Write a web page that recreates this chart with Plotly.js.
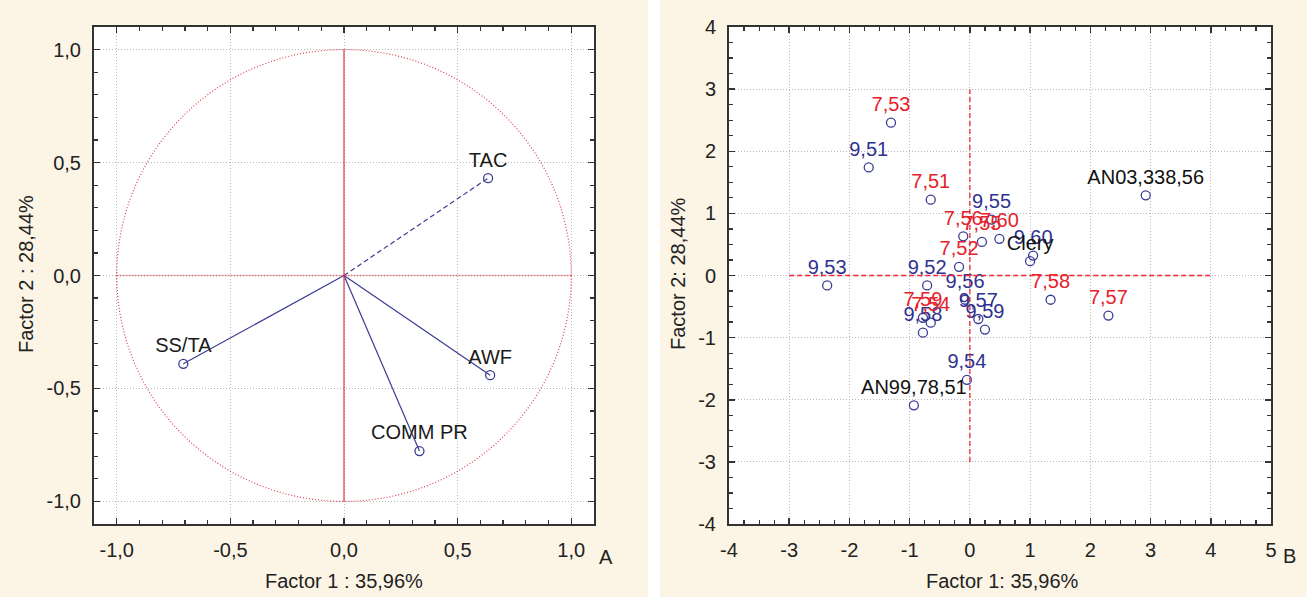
<!DOCTYPE html>
<html>
<head>
<meta charset="utf-8">
<script src="https://cdn.plot.ly/plotly-3.0.1.min.js"></script>
<style>html,body{margin:0;padding:0;background:#fcf5e5;}#chart{width:1307px;height:597px;}</style>
</head>
<body>
<div id="chart"></div>
<script>
// ---- Panel A: loadings ----
const loadNames = ["TAC", "AWF", "SS/TA", "COMM PR"];
const loadF1 = [0.634, 0.643, -0.707, 0.332];
const loadF2 = [0.431, -0.441, -0.391, -0.777];
const loadDash = ["dash", "solid", "solid", "solid"];

// ---- Panel B: scores ----
const redNames = ["7,51","7,52","7,53","7,54","7,55","7,56","7,57","7,58","7,59","7,60"];
const redF1 = [-0.65, -0.18, -1.31, -0.65, 0.20, -0.11, 2.30, 1.34, -0.78, 0.49];
const redF2 = [1.22, 0.14, 2.46, -0.76, 0.54, 0.63, -0.645, -0.39, -0.68, 0.59];

const blueNames = ["9,51","9,52","9,53","9,54","9,55","9,56","9,57","9,58","9,59","9,60"];
const blueF1 = [-1.68, -0.71, -2.37, -0.05, 0.36, -0.08, 0.14, -0.78, 0.25, 1.05];
const blueF2 = [1.74, -0.16, -0.16, -1.68, 0.90, -0.39, -0.70, -0.92, -0.87, 0.32];

const blackNames = ["AN03,338,56", "AN99,78,51", "Clery"];
const blackF1 = [2.92, -0.93, 1.00];
const blackF2 = [1.29, -2.09, 0.23];

const tickValsA = [-1.0, -0.5, 0.0, 0.5, 1.0];
const tickTextA = ["-1,0", "-0,5", "0,0", "0,5", "1,0"];
const tickValsBx = [-4, -3, -2, -1, 0, 1, 2, 3, 4, 5];
const tickTextBx = ["-4", "-3", "-2", "-1", "0", "1", "2", "3", "4", "5"];
const tickValsBy = [-4, -3, -2, -1, 0, 1, 2, 3, 4];
const tickTextBy = ["-4", "-3", "-2", "-1", "0", "1", "2", "3", "4"];

const FONT = "Liberation Sans, Arial, sans-serif";
const NAVY = "#3b3c94";
const RED = "#e5222b";
const BLUE_TXT = "#2f3290";
const FRAME = "#333333";
const FS = 20;

const traces = [];
// vectors
loadNames.forEach((n, i) => {
  traces.push({
    x: [0, loadF1[i]], y: [0, loadF2[i]], xaxis: "x", yaxis: "y",
    mode: "lines", line: {color: NAVY, width: 1.2, dash: loadDash[i] === "dash" ? "5px,3px" : "solid"},
    hoverinfo: "skip", showlegend: false
  });
});
traces.push({
  x: loadF1, y: loadF2, text: loadNames, xaxis: "x", yaxis: "y",
  mode: "markers+text", textposition: "top center",
  marker: {symbol: "circle-open", size: 9, color: NAVY, line: {width: 1.3}},
  textfont: {family: FONT, size: FS, color: "#1a1a1a"},
  showlegend: false
});

function scoreTrace(xs, ys, names, col) {
  return {
    x: xs, y: ys, text: names, xaxis: "x2", yaxis: "y2",
    mode: "markers+text", textposition: "top center",
    marker: {symbol: "circle-open", size: 9, color: NAVY, line: {width: 1.3}},
    textfont: {family: FONT, size: FS, color: col},
    showlegend: false, cliponaxis: false
  };
}
traces.push(scoreTrace(blueF1, blueF2, blueNames, BLUE_TXT));
traces.push(scoreTrace(redF1, redF2, redNames, RED));
traces.push(scoreTrace(blackF1, blackF2, blackNames, "#111111"));

function axisBase(domain, range, tv, tt, minorDtick, anchor) {
  return {
    domain: domain, range: range, anchor: anchor,
    tickmode: "array", tickvals: tv, ticktext: tt,
    ticks: "inside", ticklen: 6, tickwidth: 1.5, tickcolor: FRAME,
    minor: {dtick: minorDtick, ticks: "inside", ticklen: 4, tickwidth: 1.2, tickcolor: FRAME, showgrid: false},
    showline: true, linecolor: FRAME, linewidth: 2, mirror: "allticks",
    showgrid: true, gridcolor: "#b8b8b8", gridwidth: 1, griddash: "1px,2px",
    zeroline: false, tickfont: {family: FONT, size: FS, color: "#222"},
    ticklabelstandoff: 7, automargin: false, fixedrange: true
  };
}

const yDom = [73/597, 570/597];
const layout = {
  width: 1307, height: 597, autosize: false,
  margin: {l: 0, r: 0, t: 0, b: 0},
  paper_bgcolor: "#fcf5e5", plot_bgcolor: "#ffffff",
  showlegend: false,
  xaxis: axisBase([94/1307, 594/1307], [-1.1, 1.1], tickValsA, tickTextA, 0.1, "y"),
  yaxis: axisBase(yDom, [-1.1, 1.1], tickValsA, tickTextA, 0.1, "x"),
  xaxis2: axisBase([729/1307, 1271/1307], [-4, 5], tickValsBx, tickTextBx, 0.25, "y2"),
  yaxis2: axisBase(yDom, [-4, 4], tickValsBy, tickTextBy, 0.25, "x2"),
  shapes: [
    {type: "rect", xref: "paper", yref: "paper", x0: 648/1307, x1: 660/1307, y0: 0, y1: 1,
     fillcolor: "#ffffff", line: {width: 0}, layer: "below"},
    {type: "circle", xref: "x", yref: "y", x0: -1, x1: 1, y0: -1, y1: 1,
     line: {color: "#e0404c", width: 1.2, dash: "1px,2px"}, layer: "above"},
    {type: "line", xref: "x", yref: "y", x0: 0, x1: 0, y0: -1, y1: 1,
     line: {color: "#e03a46", width: 1.2}, layer: "above"},
    {type: "line", xref: "x", yref: "y", x0: -1, x1: 1, y0: 0, y1: 0,
     line: {color: "#e03a46", width: 1.3, dash: "1px,2px"}, layer: "above"},
    {type: "line", xref: "x2", yref: "y2", x0: -3, x1: 4, y0: 0, y1: 0,
     line: {color: "#ee2a36", width: 1.5, dash: "5px,3px"}, layer: "above"},
    {type: "line", xref: "x2", yref: "y2", x0: 0, x1: 0, y0: -3, y1: 3,
     line: {color: "#ee2a36", width: 1.3, dash: "5px,3px"}, layer: "above"}
  ],
  annotations: [
    {text: "Factor 1 : 35,96%", xref: "paper", yref: "paper", x: 344/1307, y: 1 - 581/597,
     showarrow: false, font: {family: FONT, size: FS, color: "#222"}, xanchor: "center", yanchor: "middle"},
    {text: "Factor 2 : 28,44%", xref: "paper", yref: "paper", x: 26/1307, y: 1 - 274/597,
     showarrow: false, textangle: -90, font: {family: FONT, size: FS, color: "#222"}, xanchor: "center", yanchor: "middle"},
    {text: "Factor 1: 35,96%", xref: "paper", yref: "paper", x: 1002/1307, y: 1 - 581/597,
     showarrow: false, font: {family: FONT, size: FS, color: "#222"}, xanchor: "center", yanchor: "middle"},
    {text: "Factor 2: 28,44%", xref: "paper", yref: "paper", x: 678/1307, y: 1 - 274/597,
     showarrow: false, textangle: -90, font: {family: FONT, size: FS, color: "#222"}, xanchor: "center", yanchor: "middle"},
    {text: "A", xref: "paper", yref: "paper", x: 606/1307, y: 1 - 557/597,
     showarrow: false, font: {family: FONT, size: FS, color: "#222"}, xanchor: "center", yanchor: "middle"},
    {text: "B", xref: "paper", yref: "paper", x: 1289/1307, y: 1 - 556/597,
     showarrow: false, font: {family: FONT, size: FS, color: "#222"}, xanchor: "center", yanchor: "middle"}
  ]
};

Plotly.newPlot("chart", traces, layout, {displayModeBar: false, staticPlot: true});
</script>
</body>
</html>
